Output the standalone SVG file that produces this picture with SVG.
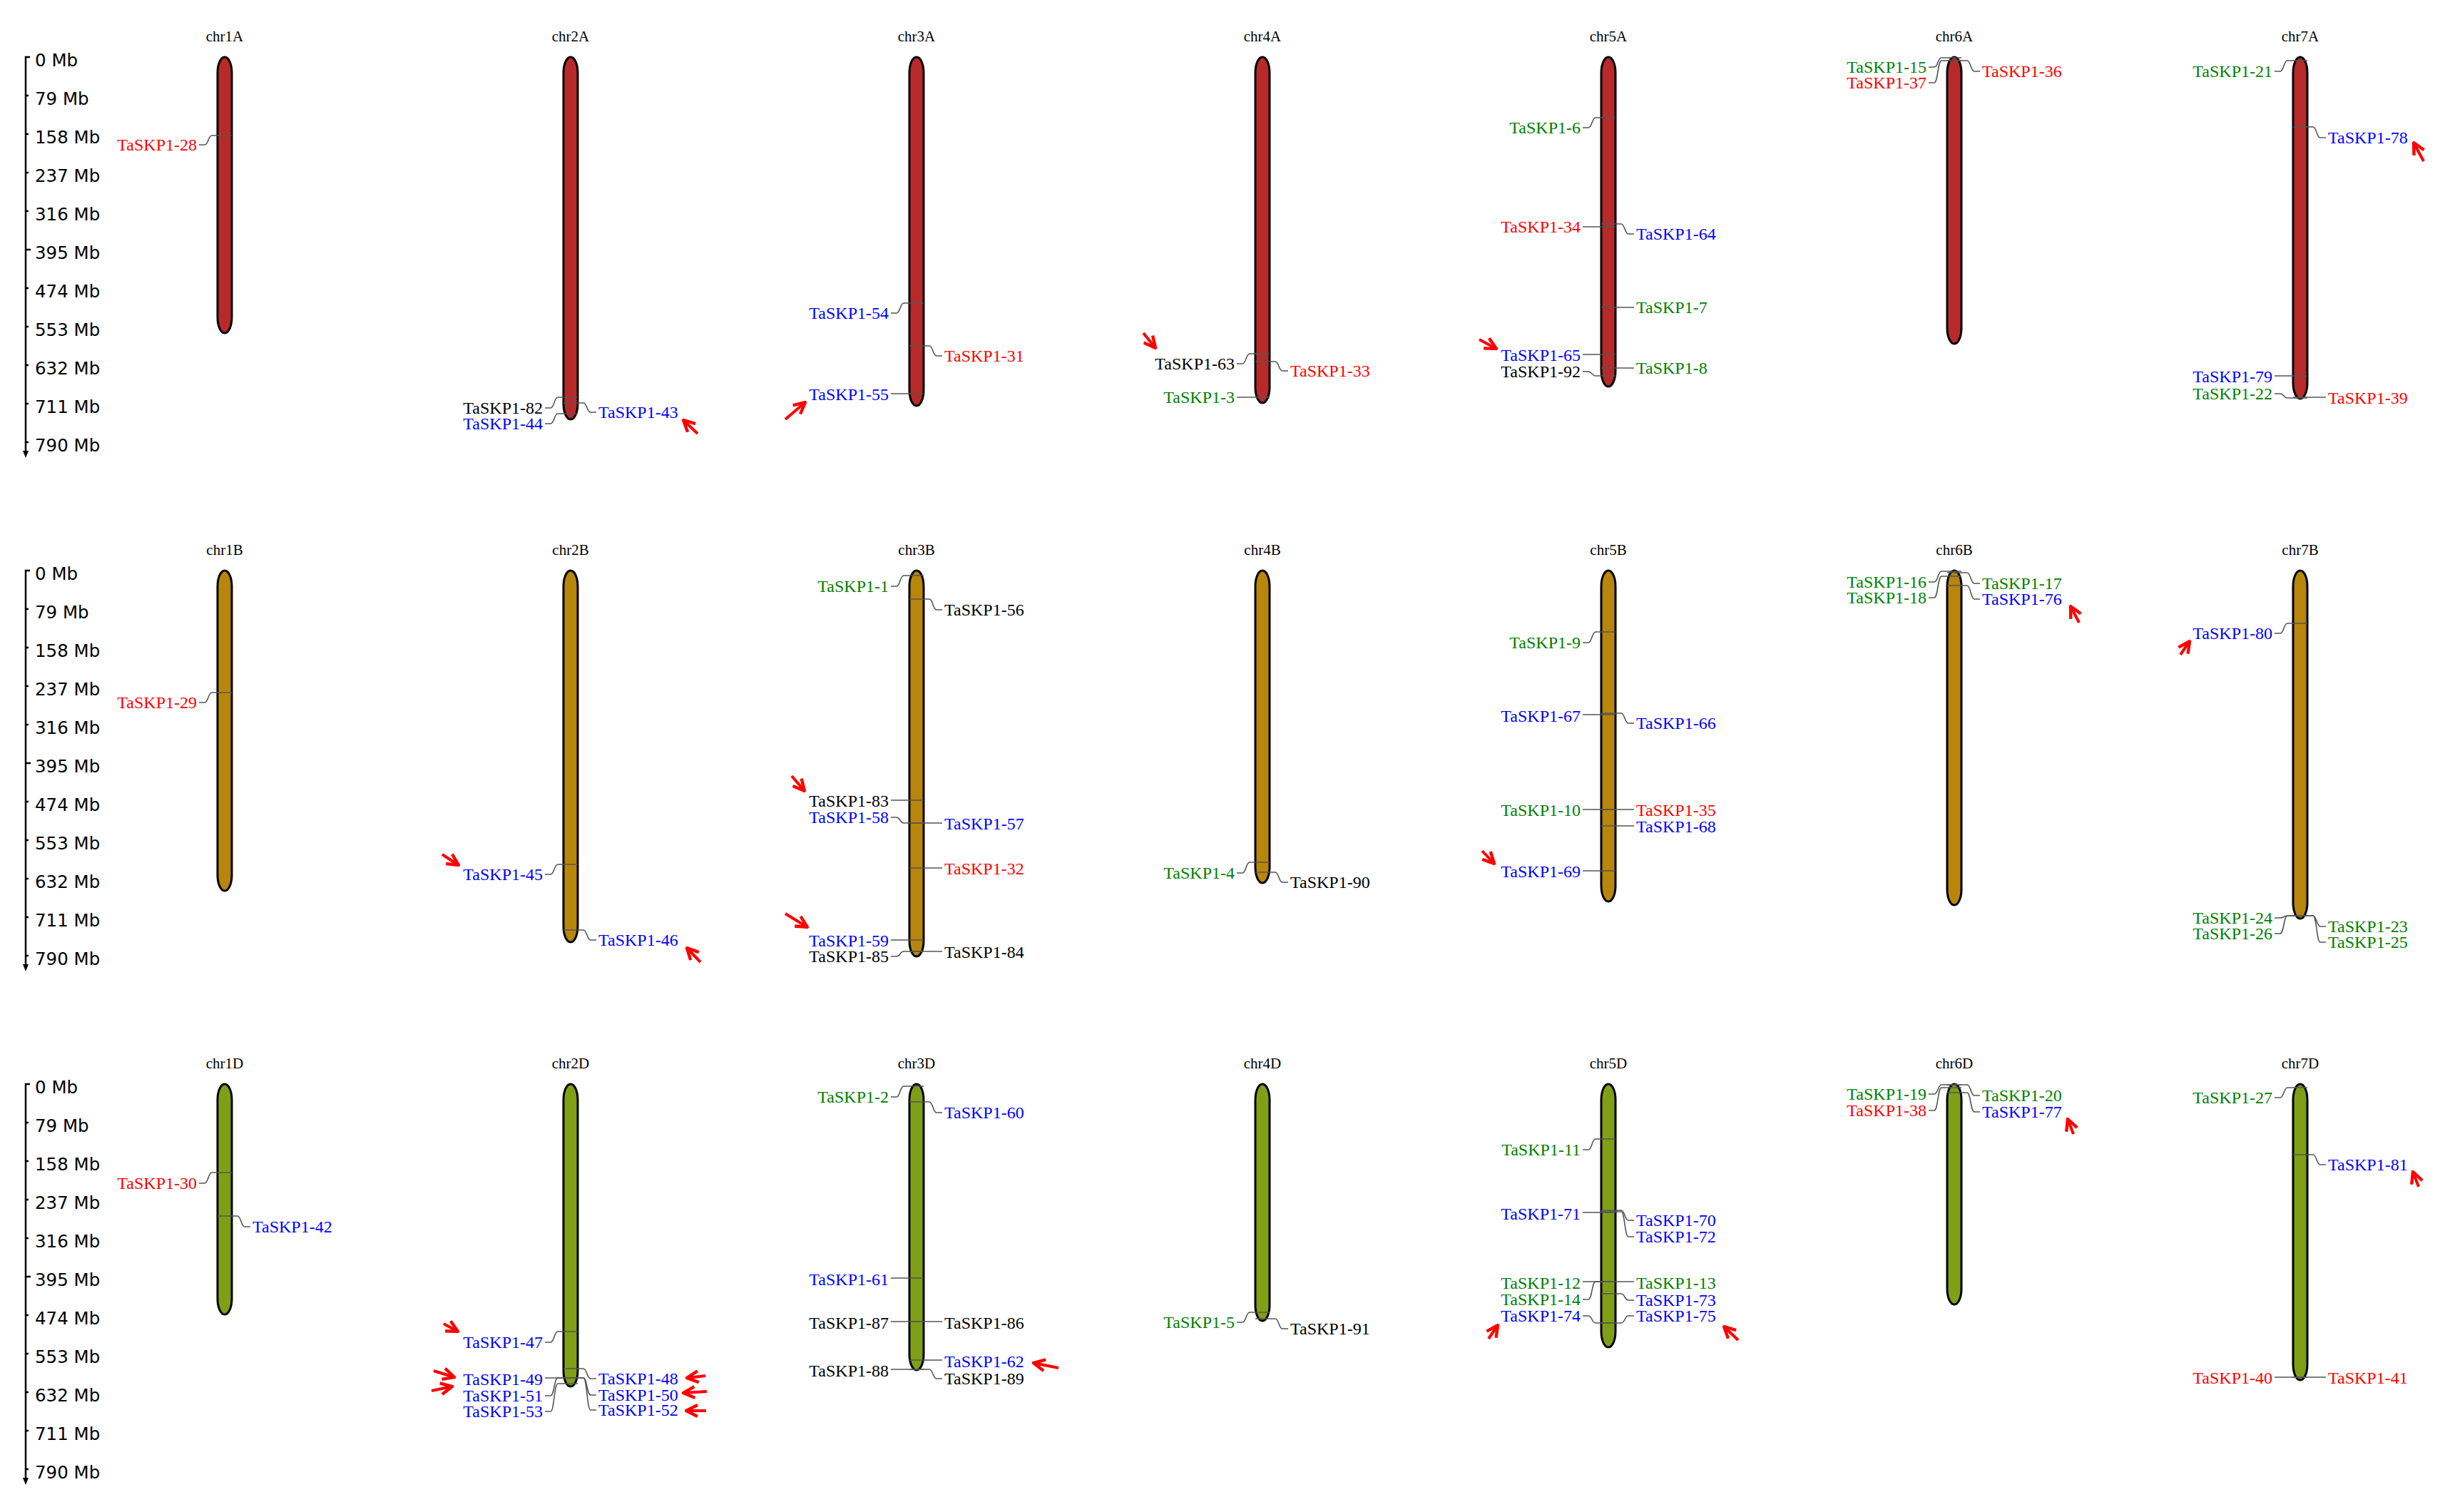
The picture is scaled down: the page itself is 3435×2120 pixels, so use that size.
<svg xmlns="http://www.w3.org/2000/svg" width="3435" height="2120" viewBox="0 0 3435 2120">
<style>
.chA{fill:#B8292A;stroke:#000;stroke-width:3}
.chB{fill:#B8860B;stroke:#000;stroke-width:3}
.chC{fill:#7FA015;stroke:#000;stroke-width:3}
.ttl{font-family:"Liberation Serif","Times New Roman",serif;font-size:21px;text-anchor:middle;fill:#000}
.t{font-family:"Liberation Serif","Times New Roman",serif;font-size:24px}
.L{text-anchor:end}
.R{text-anchor:start}
.r{fill:#FF0000}.b{fill:#0000FF}.g{fill:#008000}.k{fill:#000}
.ax{font-family:"DejaVu Sans",sans-serif;font-size:24.5px;fill:#000}
.axl{fill:none;stroke:#000;stroke-width:2.5}
.ld{fill:none;stroke:#555;stroke-width:1.6}
.ar{fill:none;stroke:#FF0000;stroke-width:4;marker-end:url(#ah)}
</style>
<defs>
<marker id="ah" viewBox="0 0 10 10" refX="9" refY="5" markerWidth="20" markerHeight="20" markerUnits="userSpaceOnUse" orient="auto">
<path d="M1,1 L9,5 L1,9" fill="none" stroke="#FF0000" stroke-width="2.2"/>
</marker>
</defs>
<rect width="3435" height="2120" fill="#fff"/>

<g id="axes">
<g id="axisA">
<path class="axl" d="M42,80H36V634M36,134H40M36,188H40M36,242H40M36,296H40M36,350H43M36,404H40M36,458H40M36,512H40M36,566H40M36,620H40"/>
<polygon points="32,632 40,632 36,642" fill="#000"/>
<text class="ax" x="49" y="93">0 Mb</text><text class="ax" x="49" y="147">79 Mb</text><text class="ax" x="49" y="201">158 Mb</text><text class="ax" x="49" y="255">237 Mb</text><text class="ax" x="49" y="309">316 Mb</text><text class="ax" x="49" y="363">395 Mb</text><text class="ax" x="49" y="417">474 Mb</text><text class="ax" x="49" y="471">553 Mb</text><text class="ax" x="49" y="525">632 Mb</text><text class="ax" x="49" y="579">711 Mb</text><text class="ax" x="49" y="633">790 Mb</text>
</g>
<g id="axisB">
<path class="axl" d="M42,800H36V1354M36,854H40M36,908H40M36,962H40M36,1016H40M36,1070H43M36,1124H40M36,1178H40M36,1232H40M36,1286H40M36,1340H40"/>
<polygon points="32,1352 40,1352 36,1362" fill="#000"/>
<text class="ax" x="49" y="813">0 Mb</text><text class="ax" x="49" y="867">79 Mb</text><text class="ax" x="49" y="921">158 Mb</text><text class="ax" x="49" y="975">237 Mb</text><text class="ax" x="49" y="1029">316 Mb</text><text class="ax" x="49" y="1083">395 Mb</text><text class="ax" x="49" y="1137">474 Mb</text><text class="ax" x="49" y="1191">553 Mb</text><text class="ax" x="49" y="1245">632 Mb</text><text class="ax" x="49" y="1299">711 Mb</text><text class="ax" x="49" y="1353">790 Mb</text>
</g>
<g id="axisC">
<path class="axl" d="M42,1520H36V2074M36,1574H40M36,1628H40M36,1682H40M36,1736H40M36,1790H43M36,1844H40M36,1898H40M36,1952H40M36,2006H40M36,2060H40"/>
<polygon points="32,2072 40,2072 36,2082" fill="#000"/>
<text class="ax" x="49" y="1533">0 Mb</text><text class="ax" x="49" y="1587">79 Mb</text><text class="ax" x="49" y="1641">158 Mb</text><text class="ax" x="49" y="1695">237 Mb</text><text class="ax" x="49" y="1749">316 Mb</text><text class="ax" x="49" y="1803">395 Mb</text><text class="ax" x="49" y="1857">474 Mb</text><text class="ax" x="49" y="1911">553 Mb</text><text class="ax" x="49" y="1965">632 Mb</text><text class="ax" x="49" y="2019">711 Mb</text><text class="ax" x="49" y="2073">790 Mb</text>
</g>
</g>

<!-- Row A -->
<g id="chr1A"><text class="ttl" x="315" y="58">chr1A</text><rect class="chA" x="305" y="80" width="20" height="387" rx="10" ry="22"/>
<text class="t L r" x="276" y="211">TaSKP1-28</text></g>
<g id="chr2A"><text class="ttl" x="800" y="58">chr2A</text><rect class="chA" x="790" y="80" width="20" height="508" rx="10" ry="22"/>
<text class="t L k" x="761" y="580">TaSKP1-82</text><text class="t L b" x="761" y="602">TaSKP1-44</text><text class="t R b" x="839" y="586">TaSKP1-43</text></g>
<g id="chr3A"><text class="ttl" x="1285" y="58">chr3A</text><rect class="chA" x="1275" y="80" width="20" height="489" rx="10" ry="22"/>
<text class="t L b" x="1246" y="447">TaSKP1-54</text><text class="t R r" x="1324" y="507">TaSKP1-31</text><text class="t L b" x="1246" y="561">TaSKP1-55</text></g>
<g id="chr4A"><text class="ttl" x="1770" y="58">chr4A</text><rect class="chA" x="1760" y="80" width="20" height="485" rx="10" ry="22"/>
<text class="t L k" x="1731" y="518">TaSKP1-63</text><text class="t R r" x="1809" y="528">TaSKP1-33</text><text class="t L g" x="1731" y="565">TaSKP1-3</text></g>
<g id="chr5A"><text class="ttl" x="2255" y="58">chr5A</text><rect class="chA" x="2245" y="80" width="20" height="462" rx="10" ry="22"/>
<text class="t L g" x="2216" y="187">TaSKP1-6</text><text class="t L r" x="2216" y="326">TaSKP1-34</text><text class="t R b" x="2294" y="336">TaSKP1-64</text><text class="t R g" x="2294" y="439">TaSKP1-7</text><text class="t L b" x="2216" y="506">TaSKP1-65</text><text class="t R g" x="2294" y="524">TaSKP1-8</text><text class="t L k" x="2216" y="529">TaSKP1-92</text></g>
<g id="chr6A"><text class="ttl" x="2740" y="58">chr6A</text><rect class="chA" x="2730" y="80" width="20" height="402" rx="10" ry="22"/>
<text class="t L g" x="2701" y="102">TaSKP1-15</text><text class="t L r" x="2701" y="124">TaSKP1-37</text><text class="t R r" x="2779" y="108">TaSKP1-36</text></g>
<g id="chr7A"><text class="ttl" x="3225" y="58">chr7A</text><rect class="chA" x="3215" y="80" width="20" height="479" rx="10" ry="22"/>
<text class="t L g" x="3186" y="108">TaSKP1-21</text><text class="t R b" x="3264" y="201">TaSKP1-78</text><text class="t L b" x="3186" y="536">TaSKP1-79</text><text class="t L g" x="3186" y="560">TaSKP1-22</text><text class="t R r" x="3264" y="566">TaSKP1-39</text></g>

<!-- Row B -->
<g id="chr1B"><text class="ttl" x="315" y="778">chr1B</text><rect class="chB" x="305" y="800" width="20" height="449" rx="10" ry="22"/>
<text class="t L r" x="276" y="993">TaSKP1-29</text></g>
<g id="chr2B"><text class="ttl" x="800" y="778">chr2B</text><rect class="chB" x="790" y="800" width="20" height="521" rx="10" ry="22"/>
<text class="t L b" x="761" y="1234">TaSKP1-45</text><text class="t R b" x="839" y="1326">TaSKP1-46</text></g>
<g id="chr3B"><text class="ttl" x="1285" y="778">chr3B</text><rect class="chB" x="1275" y="800" width="20" height="541" rx="10" ry="22"/>
<text class="t L g" x="1246" y="830">TaSKP1-1</text><text class="t R k" x="1324" y="863">TaSKP1-56</text><text class="t L k" x="1246" y="1131">TaSKP1-83</text><text class="t L b" x="1246" y="1154">TaSKP1-58</text><text class="t R b" x="1324" y="1163">TaSKP1-57</text><text class="t R r" x="1324" y="1226">TaSKP1-32</text><text class="t L b" x="1246" y="1327">TaSKP1-59</text><text class="t L k" x="1246" y="1349">TaSKP1-85</text><text class="t R k" x="1324" y="1343">TaSKP1-84</text></g>
<g id="chr4B"><text class="ttl" x="1770" y="778">chr4B</text><rect class="chB" x="1760" y="800" width="20" height="438" rx="10" ry="22"/>
<text class="t L g" x="1731" y="1232">TaSKP1-4</text><text class="t R k" x="1809" y="1245">TaSKP1-90</text></g>
<g id="chr5B"><text class="ttl" x="2255" y="778">chr5B</text><rect class="chB" x="2245" y="800" width="20" height="464" rx="10" ry="22"/>
<text class="t L g" x="2216" y="909">TaSKP1-9</text><text class="t L b" x="2216" y="1012">TaSKP1-67</text><text class="t R b" x="2294" y="1022">TaSKP1-66</text><text class="t L g" x="2216" y="1144">TaSKP1-10</text><text class="t R r" x="2294" y="1144">TaSKP1-35</text><text class="t R b" x="2294" y="1167">TaSKP1-68</text><text class="t L b" x="2216" y="1230">TaSKP1-69</text></g>
<g id="chr6B"><text class="ttl" x="2740" y="778">chr6B</text><rect class="chB" x="2730" y="800" width="20" height="469" rx="10" ry="22"/>
<text class="t L g" x="2701" y="824">TaSKP1-16</text><text class="t L g" x="2701" y="846">TaSKP1-18</text><text class="t R g" x="2779" y="826">TaSKP1-17</text><text class="t R b" x="2779" y="848">TaSKP1-76</text></g>
<g id="chr7B"><text class="ttl" x="3225" y="778">chr7B</text><rect class="chB" x="3215" y="800" width="20" height="488" rx="10" ry="22"/>
<text class="t L b" x="3186" y="896">TaSKP1-80</text><text class="t L g" x="3186" y="1295">TaSKP1-24</text><text class="t L g" x="3186" y="1317">TaSKP1-26</text><text class="t R g" x="3264" y="1307">TaSKP1-23</text><text class="t R g" x="3264" y="1329">TaSKP1-25</text></g>

<!-- Row C -->
<g id="chr1D"><text class="ttl" x="315" y="1498">chr1D</text><rect class="chC" x="305" y="1520" width="20" height="323" rx="10" ry="22"/>
<text class="t L r" x="276" y="1667">TaSKP1-30</text><text class="t R b" x="354" y="1728">TaSKP1-42</text></g>
<g id="chr2D"><text class="ttl" x="800" y="1498">chr2D</text><rect class="chC" x="790" y="1520" width="20" height="424" rx="10" ry="22"/>
<text class="t L b" x="761" y="1890">TaSKP1-47</text><text class="t L b" x="761" y="1942">TaSKP1-49</text><text class="t L b" x="761" y="1965">TaSKP1-51</text><text class="t L b" x="761" y="1987">TaSKP1-53</text><text class="t R b" x="839" y="1941">TaSKP1-48</text><text class="t R b" x="839" y="1964">TaSKP1-50</text><text class="t R b" x="839" y="1985">TaSKP1-52</text></g>
<g id="chr3D"><text class="ttl" x="1285" y="1498">chr3D</text><rect class="chC" x="1275" y="1520" width="20" height="401" rx="10" ry="22"/>
<text class="t L g" x="1246" y="1546">TaSKP1-2</text><text class="t R b" x="1324" y="1568">TaSKP1-60</text><text class="t L b" x="1246" y="1802">TaSKP1-61</text><text class="t L k" x="1246" y="1863">TaSKP1-87</text><text class="t R k" x="1324" y="1863">TaSKP1-86</text><text class="t R b" x="1324" y="1917">TaSKP1-62</text><text class="t L k" x="1246" y="1930">TaSKP1-88</text><text class="t R k" x="1324" y="1941">TaSKP1-89</text></g>
<g id="chr4D"><text class="ttl" x="1770" y="1498">chr4D</text><rect class="chC" x="1760" y="1520" width="20" height="332" rx="10" ry="22"/>
<text class="t L g" x="1731" y="1862">TaSKP1-5</text><text class="t R k" x="1809" y="1871">TaSKP1-91</text></g>
<g id="chr5D"><text class="ttl" x="2255" y="1498">chr5D</text><rect class="chC" x="2245" y="1520" width="20" height="369" rx="10" ry="22"/>
<text class="t L g" x="2216" y="1620">TaSKP1-11</text><text class="t L b" x="2216" y="1710">TaSKP1-71</text><text class="t R b" x="2294" y="1719">TaSKP1-70</text><text class="t R b" x="2294" y="1742">TaSKP1-72</text><text class="t L g" x="2216" y="1807">TaSKP1-12</text><text class="t R g" x="2294" y="1807">TaSKP1-13</text><text class="t L g" x="2216" y="1830">TaSKP1-14</text><text class="t R b" x="2294" y="1831">TaSKP1-73</text><text class="t L b" x="2216" y="1853">TaSKP1-74</text><text class="t R b" x="2294" y="1853">TaSKP1-75</text></g>
<g id="chr6D"><text class="ttl" x="2740" y="1498">chr6D</text><rect class="chC" x="2730" y="1520" width="20" height="309" rx="10" ry="22"/>
<text class="t L g" x="2701" y="1542">TaSKP1-19</text><text class="t L r" x="2701" y="1565">TaSKP1-38</text><text class="t R g" x="2779" y="1544">TaSKP1-20</text><text class="t R b" x="2779" y="1567">TaSKP1-77</text></g>
<g id="chr7D"><text class="ttl" x="3225" y="1498">chr7D</text><rect class="chC" x="3215" y="1520" width="20" height="415" rx="10" ry="22"/>
<text class="t L g" x="3186" y="1547">TaSKP1-27</text><text class="t R b" x="3264" y="1641">TaSKP1-81</text><text class="t L r" x="3186" y="1940">TaSKP1-40</text><text class="t R r" x="3264" y="1940">TaSKP1-41</text></g>

<g id="connectors">
<path class="ld" d="M325,190H297C292,190 292,203 287,203H279"/>
<path class="ld" d="M810,557H782C777,557 777,572 772,572H764"/>
<path class="ld" d="M810,580H782C777,580 777,594 772,594H764"/>
<path class="ld" d="M790,565H818C823,565 823,578 828,578H836"/>
<path class="ld" d="M1295,425H1267C1262,425 1262,439 1257,439H1249"/>
<path class="ld" d="M1275,485H1303C1308,485 1308,499 1313,499H1321"/>
<path class="ld" d="M1295,552H1249"/>
<path class="ld" d="M1780,496H1752C1747,496 1747,510 1742,510H1734"/>
<path class="ld" d="M1760,507H1788C1793,507 1793,520 1798,520H1806"/>
<path class="ld" d="M1780,557H1734"/>
<path class="ld" d="M2265,165H2237C2232,165 2232,179 2227,179H2219"/>
<path class="ld" d="M2265,318H2219"/>
<path class="ld" d="M2245,314H2273C2278,314 2278,328 2283,328H2291"/>
<path class="ld" d="M2245,431H2291"/>
<path class="ld" d="M2265,497H2219"/>
<path class="ld" d="M2245,516H2291"/>
<path class="ld" d="M2265,527H2237C2232,527 2232,521 2227,521H2219"/>
<path class="ld" d="M2750,81H2722C2717,81 2717,94 2712,94H2704"/>
<path class="ld" d="M2750,85H2722C2717,85 2717,116 2712,116H2704"/>
<path class="ld" d="M2730,85H2758C2763,85 2763,100 2768,100H2776"/>
<path class="ld" d="M3235,85H3207C3202,85 3202,100 3197,100H3189"/>
<path class="ld" d="M3215,178H3243C3248,178 3248,193 3253,193H3261"/>
<path class="ld" d="M3235,527H3189"/>
<path class="ld" d="M3235,558H3207C3202,558 3202,552 3197,552H3189"/>
<path class="ld" d="M3215,557H3261"/>
<path class="ld" d="M325,971H297C292,971 292,985 287,985H279"/>
<path class="ld" d="M810,1212H782C777,1212 777,1226 772,1226H764"/>
<path class="ld" d="M790,1304H818C823,1304 823,1318 828,1318H836"/>
<path class="ld" d="M1295,807H1267C1262,807 1262,822 1257,822H1249"/>
<path class="ld" d="M1275,840H1303C1308,840 1308,855 1313,855H1321"/>
<path class="ld" d="M1295,1122H1249"/>
<path class="ld" d="M1295,1154H1267C1262,1154 1262,1146 1257,1146H1249"/>
<path class="ld" d="M1275,1154H1321"/>
<path class="ld" d="M1275,1217H1321"/>
<path class="ld" d="M1295,1318H1249"/>
<path class="ld" d="M1295,1334H1267C1262,1334 1262,1341 1257,1341H1249"/>
<path class="ld" d="M1275,1334H1321"/>
<path class="ld" d="M1780,1209H1752C1747,1209 1747,1224 1742,1224H1734"/>
<path class="ld" d="M1760,1223H1788C1793,1223 1793,1237 1798,1237H1806"/>
<path class="ld" d="M2265,886H2237C2232,886 2232,901 2227,901H2219"/>
<path class="ld" d="M2265,1002H2219"/>
<path class="ld" d="M2245,1000H2273C2278,1000 2278,1014 2283,1014H2291"/>
<path class="ld" d="M2265,1135H2219"/>
<path class="ld" d="M2245,1135H2291"/>
<path class="ld" d="M2245,1158H2291"/>
<path class="ld" d="M2265,1221H2219"/>
<path class="ld" d="M2750,801H2722C2717,801 2717,816 2712,816H2704"/>
<path class="ld" d="M2750,808H2722C2717,808 2717,838 2712,838H2704"/>
<path class="ld" d="M2730,803H2758C2763,803 2763,818 2768,818H2776"/>
<path class="ld" d="M2730,821H2758C2763,821 2763,840 2768,840H2776"/>
<path class="ld" d="M3235,874H3207C3202,874 3202,888 3197,888H3189"/>
<path class="ld" d="M3235,1284H3207C3202,1284 3202,1287 3197,1287H3189"/>
<path class="ld" d="M3235,1284H3207C3202,1284 3202,1309 3197,1309H3189"/>
<path class="ld" d="M3215,1284H3243C3248,1284 3248,1299 3253,1299H3261"/>
<path class="ld" d="M3215,1284H3243C3248,1284 3248,1321 3253,1321H3261"/>
<path class="ld" d="M325,1644H297C292,1644 292,1659 287,1659H279"/>
<path class="ld" d="M305,1705H333C338,1705 338,1720 343,1720H351"/>
<path class="ld" d="M810,1867H782C777,1867 777,1882 772,1882H764"/>
<path class="ld" d="M810,1932H764"/>
<path class="ld" d="M810,1932H782C777,1932 777,1957 772,1957H764"/>
<path class="ld" d="M810,1940H782C777,1940 777,1979 772,1979H764"/>
<path class="ld" d="M790,1919H818C823,1919 823,1933 828,1933H836"/>
<path class="ld" d="M790,1932H818C823,1932 823,1956 828,1956H836"/>
<path class="ld" d="M790,1932H818C823,1932 823,1977 828,1977H836"/>
<path class="ld" d="M1295,1523H1267C1262,1523 1262,1538 1257,1538H1249"/>
<path class="ld" d="M1275,1545H1303C1308,1545 1308,1560 1313,1560H1321"/>
<path class="ld" d="M1295,1792H1249"/>
<path class="ld" d="M1295,1853H1249"/>
<path class="ld" d="M1275,1853H1321"/>
<path class="ld" d="M1275,1907H1321"/>
<path class="ld" d="M1295,1920H1249"/>
<path class="ld" d="M1275,1920H1303C1308,1920 1308,1933 1313,1933H1321"/>
<path class="ld" d="M1780,1840H1752C1747,1840 1747,1854 1742,1854H1734"/>
<path class="ld" d="M1760,1849H1788C1793,1849 1793,1863 1798,1863H1806"/>
<path class="ld" d="M2265,1597H2237C2232,1597 2232,1612 2227,1612H2219"/>
<path class="ld" d="M2265,1700H2219"/>
<path class="ld" d="M2245,1697H2273C2278,1697 2278,1711 2283,1711H2291"/>
<path class="ld" d="M2245,1699H2273C2278,1699 2278,1734 2283,1734H2291"/>
<path class="ld" d="M2265,1797H2219"/>
<path class="ld" d="M2245,1797H2291"/>
<path class="ld" d="M2265,1797H2237C2232,1797 2232,1822 2227,1822H2219"/>
<path class="ld" d="M2245,1814H2273C2278,1814 2278,1823 2283,1823H2291"/>
<path class="ld" d="M2265,1855H2237C2232,1855 2232,1845 2227,1845H2219"/>
<path class="ld" d="M2245,1855H2273C2278,1855 2278,1845 2283,1845H2291"/>
<path class="ld" d="M2750,1521H2722C2717,1521 2717,1534 2712,1534H2704"/>
<path class="ld" d="M2750,1525H2722C2717,1525 2717,1557 2712,1557H2704"/>
<path class="ld" d="M2730,1521H2758C2763,1521 2763,1536 2768,1536H2776"/>
<path class="ld" d="M2730,1532H2758C2763,1532 2763,1559 2768,1559H2776"/>
<path class="ld" d="M3235,1525H3207C3202,1525 3202,1539 3197,1539H3189"/>
<path class="ld" d="M3215,1619H3243C3248,1619 3248,1633 3253,1633H3261"/>
<path class="ld" d="M3235,1931H3189"/>
<path class="ld" d="M3215,1931H3261"/>
</g>

<g id="arrows">
<path class="ar" d="M978,608L958,589"/>
<path class="ar" d="M1101,588L1129,564"/>
<path class="ar" d="M1603,467L1620,488"/>
<path class="ar" d="M2074,476L2098,489"/>
<path class="ar" d="M3398,226L3384,200"/>
<path class="ar" d="M620,1198L643,1213"/>
<path class="ar" d="M982,1349L963,1329"/>
<path class="ar" d="M1110,1088L1128,1109"/>
<path class="ar" d="M1101,1281L1132,1300"/>
<path class="ar" d="M2078,1193L2095,1211"/>
<path class="ar" d="M2915,873L2903,850"/>
<path class="ar" d="M3057,918L3070,899"/>
<path class="ar" d="M622,1856L642,1867"/>
<path class="ar" d="M608,1922L637,1931"/>
<path class="ar" d="M605,1950L634,1944"/>
<path class="ar" d="M989,1929L963,1932"/>
<path class="ar" d="M991,1951L958,1953"/>
<path class="ar" d="M990,1978L962,1978"/>
<path class="ar" d="M1484,1918L1449,1911"/>
<path class="ar" d="M2087,1877L2100,1858"/>
<path class="ar" d="M2437,1879L2417,1860"/>
<path class="ar" d="M2907,1590L2899,1569"/>
<path class="ar" d="M3391,1664L3383,1643"/>
</g>
</svg>
